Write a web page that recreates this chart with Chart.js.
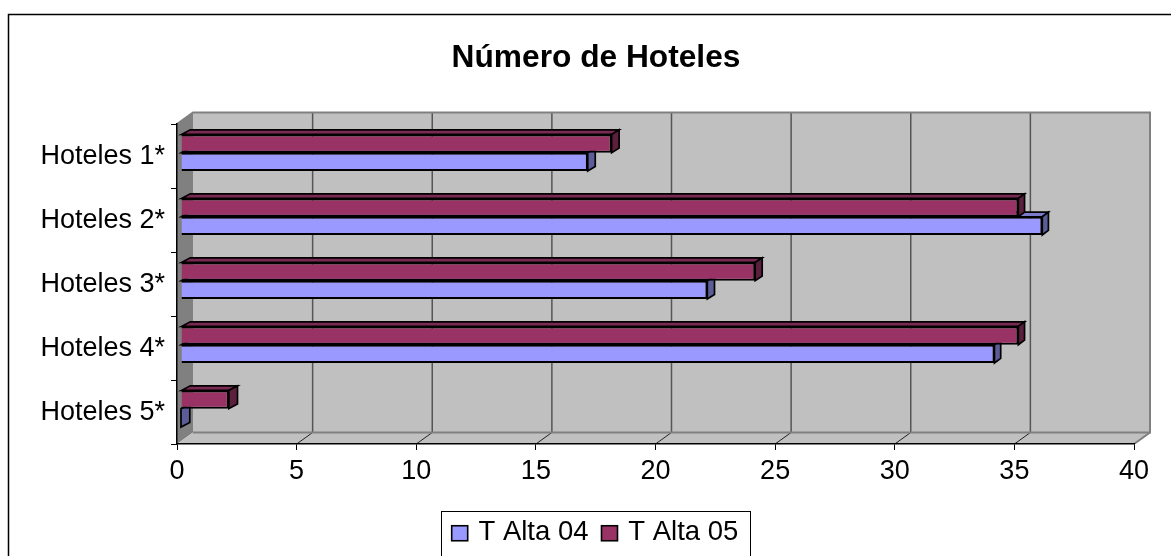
<!DOCTYPE html>
<html><head><meta charset="utf-8">
<style>html,body{margin:0;padding:0;background:#fff}canvas{display:block}</style>
<script src="https://cdn.jsdelivr.net/npm/chart.js@4"></script>
</head><body>
<div style="width:1171px;height:556px"><canvas id="c" width="1171" height="556"></canvas></div>
<script>
const categories = ['Hoteles 1*','Hoteles 2*','Hoteles 3*','Hoteles 4*','Hoteles 5*'];
const seriesNames = ['T Alta 05','T Alta 04'];
const talta05 = [18,35,24,35,2];
const talta04 = [17,36,22,34,0];
const fills = ['#993366','#9999FF'];
const tops = ['#7A2952','#7A7ACC'];
const sides = ['#5C1F3D','#5C5C99'];
const FONT = 'Liberation Sans, Arial, sans-serif';
const WX=16, WY=-11.5;     // depth of the back wall
const BX=4, BY=-3.3;        // bar plane offset
const DY=-4.6;             // bar depth (vertical)
function depthX(px,a){ return 8.8-(px-a.left)/(a.right-a.left)*3; } // slight perspective
function poly(ctx,pts,fill,stroke,lw){
  ctx.beginPath();pts.forEach((p,i)=>i?ctx.lineTo(p[0],p[1]):ctx.moveTo(p[0],p[1]));ctx.closePath();
  if(fill){ctx.fillStyle=fill;ctx.fill();}
  if(stroke){ctx.strokeStyle=stroke;ctx.lineWidth=lw;ctx.stroke();}
}
const scene = {
  id:'scene',
  afterLayout(chart){ chart.scales.y.left=0; }, // keep long category labels unclipped
  beforeDraw(chart){
    const {ctx,chartArea:a,scales:{x}}=chart;
    ctx.save();
    ctx.fillStyle='#fff';ctx.fillRect(0,0,1171,556);
    ctx.strokeStyle='#000';ctx.lineWidth=1.5;
    ctx.strokeRect(8.5,14.5,1175,560);
    poly(ctx,[[a.left+WX,a.top+WY],[a.right+WX,a.top+WY],[a.right+WX,a.bottom+WY],[a.left+WX,a.bottom+WY]],'#C0C0C0');
    poly(ctx,[[a.left,a.top],[a.left+WX,a.top+WY],[a.left+WX,a.bottom+WY],[a.left,a.bottom]],'#808080');
    poly(ctx,[[a.left,a.bottom],[a.left+WX,a.bottom+WY],[a.right+WX,a.bottom+WY],[a.right,a.bottom]],'#C0C0C0');
    x.ticks.forEach(t=>{
      const px=x.getPixelForValue(t.value);
      if(t.value>0 && t.value<x.max){
        ctx.strokeStyle='#555';ctx.lineWidth=1.5;
        ctx.beginPath();ctx.moveTo(px+WX,a.top+WY);ctx.lineTo(px+WX,a.bottom+WY);ctx.stroke();
      }
      if(t.value>0){
        ctx.strokeStyle='#222';ctx.lineWidth=1;
        ctx.beginPath();ctx.moveTo(px,a.bottom);ctx.lineTo(px+WX,a.bottom+WY);ctx.stroke();
      }
    });
    ctx.strokeStyle='#808080';ctx.lineWidth=2;
    ctx.beginPath();ctx.moveTo(a.left,a.top);ctx.lineTo(a.left+WX,a.top+WY);ctx.lineTo(a.right+WX,a.top+WY);ctx.lineTo(a.right+WX,a.bottom+WY);ctx.lineTo(a.left+WX,a.bottom+WY);ctx.stroke();
    ctx.beginPath();ctx.moveTo(a.right,a.bottom);ctx.lineTo(a.right+WX,a.bottom+WY);ctx.stroke();
    ctx.restore();
  },
  beforeDatasetsDraw(chart){
    const ctx=chart.ctx,a=chart.chartArea;
    ctx.save();ctx.translate(BX,BY);ctx.lineJoin='miter';
    for(let d=1;d>=0;d--){
      chart.getDatasetMeta(d).data.forEach(el=>{
        const t=el.y-el.height/2,b=el.y+el.height/2,l=el.base,r=el.x;
        const dl=depthX(l,a),dr=depthX(r,a);
        poly(ctx,[[l,t],[l+dl,t+DY],[r+dr,t+DY],[r,t]],tops[d],'#000',1.7);
        poly(ctx,[[r,t],[r+dr,t+DY],[r+dr,b+DY],[r,b]],sides[d],'#000',1.7);
      });
    }
  },
  afterDatasetsDraw(chart){chart.ctx.restore();},
  afterDraw(chart){
    const ctx=chart.ctx, lg=chart.legend;
    ctx.save();
    ctx.strokeStyle='#000';ctx.lineWidth=1;
    const h=lg.legendHitBoxes;
    const L=h[0].left-13, R=h[1].left+h[1].width+11, T=511;
    ctx.strokeRect(Math.round(L)+.5,T+.5,Math.round(R-L),60);
    lg.legendItems.forEach((it,i)=>{
      const b=h[i], idx=it.datasetIndex;
      ctx.fillStyle=fills[idx];ctx.strokeStyle='#000';ctx.lineWidth=1.6;
      ctx.fillRect(b.left-2,b.top+b.height/2-6.5,16,15);
      ctx.strokeRect(b.left-2,b.top+b.height/2-6.5,16,15);
    });
    ctx.restore();
  }
};
new Chart(document.getElementById('c'),{
  type:'bar',
  plugins:[scene],
  data:{labels:categories,datasets:[
    {label:seriesNames[0],data:talta05,backgroundColor:fills[0],borderColor:'#000',borderWidth:2,clip:false},
    {label:seriesNames[1],data:talta04,backgroundColor:fills[1],borderColor:'#000',borderWidth:2,clip:false}
  ]},
  options:{
    indexAxis:'y',responsive:false,animation:false,
    categoryPercentage:0.572,barPercentage:1,
    layout:{padding:{left:58,right:37,top:0,bottom:0}},
    plugins:{
      tooltip:{enabled:false},
      title:{display:true,text:'Número de Hoteles',color:'#000',font:{family:FONT,size:31.7,weight:'bold'},padding:{top:39,bottom:47}},
      legend:{position:'bottom',labels:{
        color:'#000',font:{family:FONT,size:27.5},boxWidth:11,boxHeight:16,padding:15,
        sort:(a,b)=>b.datasetIndex-a.datasetIndex,
        generateLabels(c){return Chart.defaults.plugins.legend.labels.generateLabels(c).map(l=>({...l,fillStyle:'rgba(0,0,0,0)',strokeStyle:'rgba(0,0,0,0)',lineWidth:0}));}
      }}
    },
    scales:{
      x:{min:0,max:40,position:'bottom',
        ticks:{stepSize:5,color:'#000',font:{family:FONT,size:27},padding:5.5,maxRotation:0},
        grid:{drawOnChartArea:false,drawTicks:true,tickLength:6,tickColor:'#000',tickWidth:1},
        border:{color:'#000',width:1.5},
        afterFit(s){s.height=59.5;s.paddingLeft=0;s.paddingRight=0;}
      },
      y:{
        ticks:{color:'#000',font:{family:FONT,size:27},padding:6,labelOffset:0.8},
        grid:{drawOnChartArea:false,drawTicks:true,tickLength:6,tickColor:'#000',tickWidth:1},
        border:{color:'#000',width:1.5},
        afterFit(s){s.width=119;}
      }
    }
  }
});
</script>
</body></html>
